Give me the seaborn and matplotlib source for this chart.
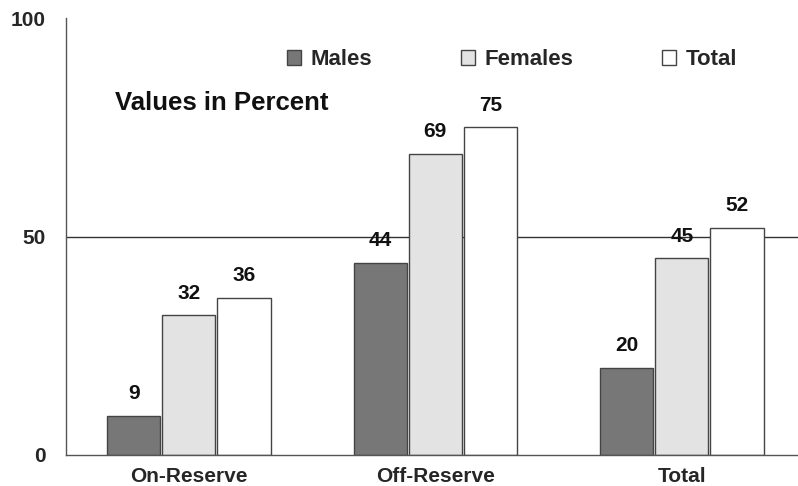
import matplotlib
matplotlib.use("Agg")
import matplotlib.pyplot as plt
from matplotlib.patches import Patch
import seaborn as sns
import pandas as pd

categories = ["On-Reserve", "Off-Reserve", "Total"]
groups = ["Males", "Females", "Total"]
males = [9, 44, 20]
females = [32, 69, 45]
total = [36, 75, 52]
y_ticks = [0, 50, 100]

colors = {"Males": "#777777", "Females": "#e3e3e3", "Total": "#ffffff"}

rows = []
for i, cat in enumerate(categories):
    for g, vals in zip(groups, [males, females, total]):
        rows.append({"category": cat, "group": g, "value": vals[i]})
df = pd.DataFrame(rows)

sns.set_theme(style="white")
plt.rcParams["font.family"] = ["Liberation Sans", "DejaVu Sans"]
plt.rcParams["font.weight"] = "bold"

fig = plt.figure(figsize=(7.98, 4.86), dpi=100)
# the plot area runs slightly past the right edge of the figure
ax = fig.add_axes([0.0821, 0.0638, 0.9267, 0.899])

sns.barplot(data=df, x="category", y="value", hue="group", order=categories,
            hue_order=groups, palette=colors, width=0.67, gap=0.03,
            edgecolor="#444444", linewidth=1.0, legend=False, ax=ax,
            saturation=1)

# value labels above each bar
for container in ax.containers:
    ax.bar_label(container, padding=9, fontsize=15, fontweight="bold",
                 color="#111111")

ax.set_xlim(-0.5, 2.5)
ax.set_ylim(0, 100)
ax.set_yticks(y_ticks)
ax.set_yticklabels([str(v) for v in y_ticks], fontsize=15, fontweight="bold")
ax.axhline(50, color="#333333", linewidth=1.0, zorder=0)

ax.set_xticks([0, 1, 2])
ax.set_xticklabels(categories, fontsize=15, fontweight="bold")
ax.set_xticks([-0.5, 0.5, 1.5, 2.5], minor=True)
ax.tick_params(axis="x", which="major", length=0, pad=9)
ax.tick_params(axis="x", which="minor", length=6, width=1, color="#333333",
               direction="out")
ax.tick_params(axis="y", length=4.5, width=1, color="#333333", direction="out",
               pad=10)
ax.set_xlabel("")
ax.set_ylabel("")

for side in ["top", "right"]:
    ax.spines[side].set_visible(False)
for side in ["left", "bottom"]:
    ax.spines[side].set_color("#555555")
    ax.spines[side].set_linewidth(1.0)

ax.text(0.067, 0.79, "Values in Percent", transform=ax.transAxes,
        fontsize=18.5, fontweight="bold", color="#111111", va="baseline")

handles = [Patch(facecolor=colors[g], edgecolor="#444444", linewidth=1.0,
                 label=g) for g in groups]
ax.legend(handles=handles, loc="center left", bbox_to_anchor=(0.2995, 0.905),
          ncol=3, frameon=False, handlelength=0.65, handleheight=0.65,
          handletextpad=0.4, columnspacing=4.0, borderpad=0, borderaxespad=0,
          prop={"weight": "bold", "size": 16})

fig.savefig("out.png", dpi=100)
